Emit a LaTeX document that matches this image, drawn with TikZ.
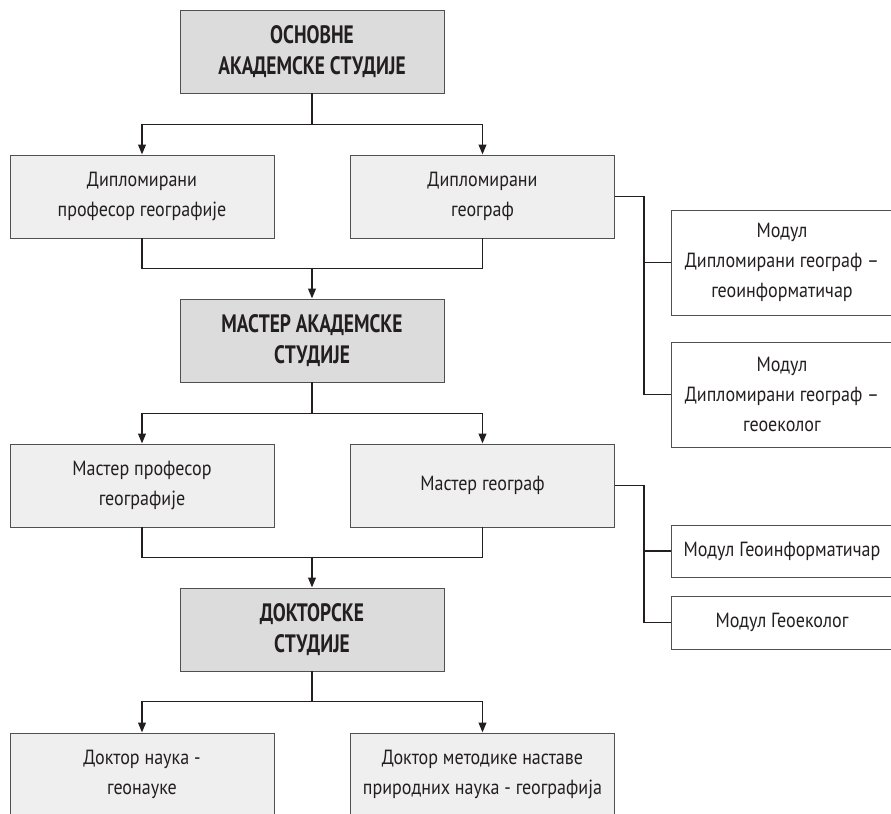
\documentclass[tikz,border=0pt]{standalone}
\usepackage{fontspec}
\setmainfont{PT Sans}[FakeStretch=0.88]
\newfontfamily\headfont{PT Sans}[FakeStretch=0.77]
\usetikzlibrary{arrows.meta,positioning}
\definecolor{mainfill}{HTML}{DCDCDD}
\definecolor{subfill}{HTML}{EFEFEF}
\definecolor{boxline}{HTML}{505050}
\definecolor{ink}{HTML}{231F20}
\tikzset{
	box/.style={draw=boxline, line width=0.8pt, minimum width=7.92cm, minimum height=2.49cm, align=center, text=ink, inner sep=0pt},
	mainbox/.style={box, fill=mainfill, font=\headfont\fontsize{21.5}{26.5}\selectfont\bfseries},
	subbox/.style={box, fill=subfill, font=\fontsize{17.5}{25.5}\selectfont},
	modbox/.style={box, fill=white, minimum width=6.66cm, font=\fontsize{17.5}{25.5}\selectfont},
	link/.style={draw=ink, line width=1.6pt},
	arrow/.style={link, -{Triangle[length=8.5pt,width=6.5pt]}},
}

\begin{document}
\begin{tikzpicture}[x=0.03cm, y=-0.03cm]
	\useasboundingbox (0,0) rectangle (891,814);
	\clip (0,0) rectangle (891,814);
	
	% studies levels
	\node[mainbox] (osn) at (312,51.5) {ОСНОВНЕ\\АКАДЕМСКЕ СТУДИЈЕ};
	\node[mainbox] (mas) at (312,340.5) {МАСТЕР АКАДЕМСКЕ\\СТУДИЈЕ};
	\node[mainbox] (dok) at (312,629.5) {ДОКТОРСКЕ\\СТУДИЈЕ};
	
	% degrees
	\node[subbox] (dpg) at (142,196.5) {Дипломирани\\професор географије};
	\node[subbox] (dg) at (482.5,196.5) {Дипломирани\\географ};
	\node[subbox] (mpg) at (142,485.5) {Мастер професор\\географије};
	\node[subbox] (mg) at (482.5,485.5) {Мастер географ};
	\node[subbox] (dng) at (142,774.5) {Доктор наука -\\геонауке};
	\node[subbox] (dmn) at (482.5,774.5) {Доктор методике наставе\\природних наука - географија};
	
	% modules
	\node[modbox, minimum height=3.15cm] (mod1) at (782,262.5) {Модул\\Дипломирани географ –\\геоинформатичар};
	\node[modbox, minimum height=3.15cm] (mod2) at (782,394.5) {Модул\\Дипломирани географ –\\геоеколог};
	\node[modbox, minimum height=1.56cm] (mod3) at (782,551) {Модул Геоинформатичар};
	\node[modbox, minimum height=1.59cm] (mod4) at (782,622.5) {Модул Геоеколог};
	
	% forks
	\draw[arrow] (osn.south) -- ++(0,31) -| (dpg.north);
	\draw[arrow] (osn.south) -- ++(0,31) -| (dg.north);
	\draw[arrow] (mas.south) -- ++(0,31) -| (mpg.north);
	\draw[arrow] (mas.south) -- ++(0,31) -| (mg.north);
	\draw[arrow] (dok.south) -- ++(0,30) -| (dng.north);
	\draw[arrow] (dok.south) -- ++(0,30) -| (dmn.north);
	
	% merges
	\draw[link] (dpg.south) -- ++(0,30) -| (dg.south);
	\draw[arrow] (mas.north) ++(0,-31) -- (mas.north);
	\draw[link] (mpg.south) -- ++(0,30) -| (mg.south);
	\draw[arrow] (dok.north) ++(0,-31) -- (dok.north);
	
	% side branches
	\draw[link] (dg.east) -- ++(29,0) |- (mod1.west);
	\draw[link] (dg.east) -- ++(29,0) |- (mod2.west);
	\draw[link] (mg.east) -- ++(29,0) |- (mod3.west);
	\draw[link] (mg.east) -- ++(29,0) |- (mod4.west);
\end{tikzpicture}
\end{document}
